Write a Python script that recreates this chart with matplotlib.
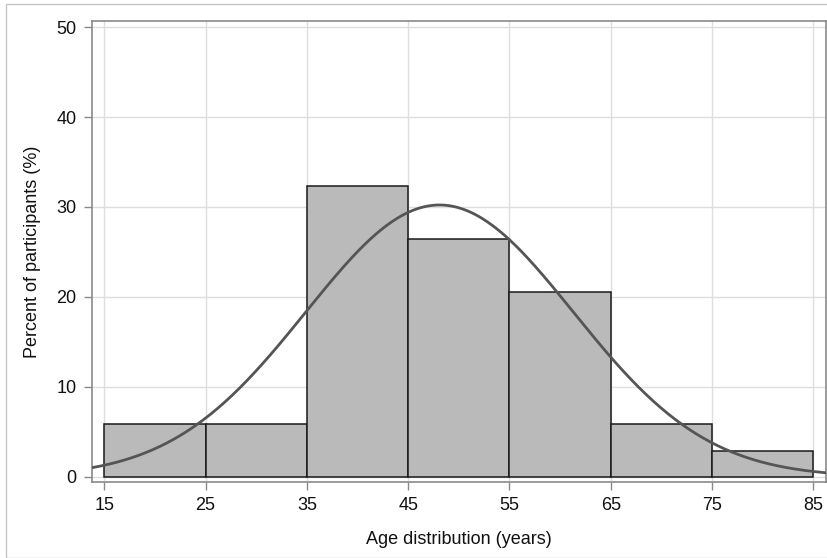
import numpy as np
import matplotlib
matplotlib.use("Agg")
import matplotlib.pyplot as plt
from matplotlib.patches import Rectangle

# age bins (years) and percent of participants per bin
bin_edges = [15, 25, 35, 45, 55, 65, 75, 85]
percent = [5.88, 5.88, 32.35, 26.47, 20.59, 5.88, 2.94]

# fitted normal curve parameters
fit_mean = 48.1
fit_sd = 13.2

x_ticks = [15, 25, 35, 45, 55, 65, 75, 85]
y_ticks = [0, 10, 20, 30, 40, 50]

plt.rcParams["font.family"] = ["Liberation Sans", "DejaVu Sans"]

fig = plt.figure(figsize=(8.28, 5.58), dpi=100)
ax = fig.add_axes([0.1111, 0.1362, 0.8865, 0.8262])

# light outer border around the graph
fig.patches.append(Rectangle((6 / 828, 0.0), 1.0, 1 - 4 / 558, transform=fig.transFigure,
                             fill=False, edgecolor="#c4c4c4", linewidth=1.0))

frame_color = "#8a8a8a"
ax.set_axisbelow(True)
ax.grid(True, color="#dedede", linewidth=1.0)

widths = np.diff(bin_edges)
ax.bar(bin_edges[:-1], percent, width=widths, align="edge",
       color="#bababa", edgecolor="#1a1a1a", linewidth=1.1, zorder=2)

bin_width = widths[0]
xs = np.linspace(13.79, 86.25, 400)
curve = 100 * bin_width * np.exp(-0.5 * ((xs - fit_mean) / fit_sd) ** 2) / (fit_sd * np.sqrt(2 * np.pi))
ax.plot(xs, curve, color="#555555", linewidth=2.0, zorder=3)

ax.set_xlim(13.79, 86.25)
ax.set_ylim(-0.56, 50.67)
ax.set_xticks(x_ticks)
ax.set_yticks(y_ticks)

for s in ax.spines.values():
    s.set_color(frame_color)
    s.set_linewidth(1.2)
ax.tick_params(axis="both", direction="out", length=6, width=1.0,
               color=frame_color, labelsize=13, labelcolor="#111111", pad=5)

ax.set_xlabel("Age distribution (years)", fontsize=13, color="#111111", labelpad=12)
ax.set_ylabel("Percent of participants (%)", fontsize=13, color="#111111", labelpad=11)

fig.savefig("out.png", dpi=100)
